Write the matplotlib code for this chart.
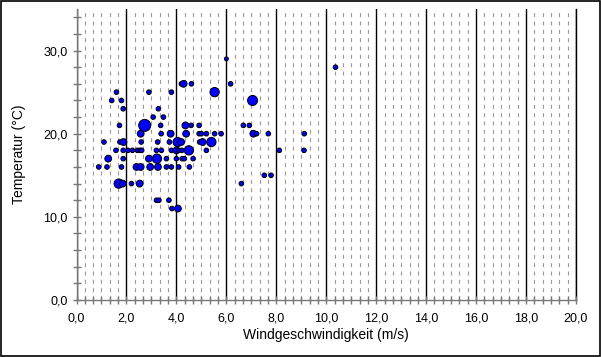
import matplotlib.pyplot as plt
from matplotlib.ticker import MultipleLocator, FuncFormatter
from matplotlib.patches import Rectangle

plt.rcParams['font.family'] = ['Liberation Sans', 'DejaVu Sans']

# marker size classes (points^2)
S, M, L, XL = 11, 24, 45, 75

wind = [3.82, 4.06,
        3.2, 3.3, 3.7,
        1.69, 1.85, 2.2, 2.53, 6.6,
        7.52, 7.79,
        0.89, 1.22, 1.8, 2.4, 2.57, 2.95, 3.26, 3.6, 3.8, 4.09, 4.52,
        1.27, 1.87, 2.9, 3.22, 3.6, 4.0, 4.23, 4.32, 4.67,
        1.58, 1.87, 2.06, 2.24, 2.44, 2.55, 2.61, 3.2, 3.4, 3.8, 4.0, 4.09, 4.22, 4.5, 5.2, 8.12, 9.11,
        1.1, 1.74, 1.88, 2.59, 3.25, 3.72, 3.97, 4.05, 4.19, 4.93, 5.05, 5.4,
        2.57, 3.39, 3.77, 4.39, 4.91, 5.0, 5.2, 5.53, 5.79, 7.08, 7.21, 7.68, 9.12,
        1.72, 2.73, 3.37, 4.36, 4.59, 4.91, 6.68, 6.92,
        3.07, 3.48,
        1.87, 3.28,
        1.41, 1.8, 7.05,
        1.6, 2.9, 3.8, 5.53,
        4.2, 4.29, 4.6, 6.17,
        10.37,
        6.0]

temp = [11, 11,
        12, 12, 12,
        14, 14, 14, 14, 14,
        15, 15,
        16, 16, 16, 16, 16, 16, 16, 16, 16, 16, 16,
        17, 17, 17, 17, 17, 17, 17, 17, 17,
        18, 18, 18, 18, 18, 18, 18, 18, 18, 18, 18, 18, 18, 18, 18, 18, 18,
        19, 19, 19, 19, 19, 19, 19, 19, 19, 19, 19, 19,
        20, 20, 20, 20, 20, 20, 20, 20, 20, 20, 20, 20, 20,
        21, 21, 21, 21, 21, 21, 21, 21,
        22, 22,
        23, 23,
        24, 24, 24,
        25, 25, 25, 25,
        26, 26, 26, 26,
        28,
        29]

sizes = [S, M,
         S, S, S,
         L, M, S, M, S,
         S, S,
         S, S, S, M, M, M, M, S, S, S, S,
         M, S, M, L, S, S, S, S, S,
         S, S, S, S, S, S, S, S, S, S, M, S, S, L, S, S, S,
         S, S, M, S, S, S, S, L, M, S, M, L,
         M, S, M, M, S, S, S, S, S, M, S, S, S,
         S, XL, S, M, S, S, S, S,
         S, S,
         S, S,
         S, S, 52,
         S, S, S, L,
         S, M, S, S,
         S,
         8]

fig = plt.figure(figsize=(6.01, 3.57), dpi=100)
fig.patches.append(Rectangle((0.001, 0.002), 0.997, 0.995, transform=fig.transFigure,
                             fill=False, edgecolor='black', linewidth=1.2))
ax = fig.add_axes([76.5 / 601, 57 / 357, 499.5 / 601, 291 / 357])

ax.set_xlim(0, 20)
ax.set_ylim(0, 35)

ax.xaxis.set_major_locator(MultipleLocator(2))
ax.xaxis.set_minor_locator(MultipleLocator(1 / 3))
ax.yaxis.set_major_locator(MultipleLocator(10))
ax.yaxis.set_minor_locator(MultipleLocator(2))

comma = FuncFormatter(lambda v, p: f"{v:.1f}".replace('.', ','))
ax.xaxis.set_major_formatter(comma)
ax.yaxis.set_major_formatter(comma)

# dashed minor grid, solid major grid (vertical only)
ax.grid(which='minor', axis='x', color='#999999', linestyle=(0, (3.6, 3.9)), linewidth=0.8)
ax.grid(which='major', axis='x', color='black', linestyle='-', linewidth=1.0)
ax.axvline(20, color='black', linewidth=1.0, clip_on=False, zorder=0.5)
ax.set_axisbelow(True)

for side in ['top', 'right']:
    ax.spines[side].set_visible(False)
for side in ['left', 'bottom']:
    ax.spines[side].set_color('#777777')
    ax.spines[side].set_linewidth(1.0)

ax.tick_params(which='both', direction='inout', length=6, width=1.0, color='#777777',
               labelsize=9, labelcolor='black')
ax.tick_params(axis='x', pad=6)

ax.scatter(wind, temp, s=sizes, c='#0000ff', edgecolors='black', linewidths=0.7,
           zorder=3, clip_on=False)

ax.set_xlabel("Windgeschwindigkeit (m/s)", fontsize=10, labelpad=2.5)
ax.set_ylabel("Temperatur (°C)", fontsize=10, labelpad=12)

fig.savefig("out.png", dpi=100)
